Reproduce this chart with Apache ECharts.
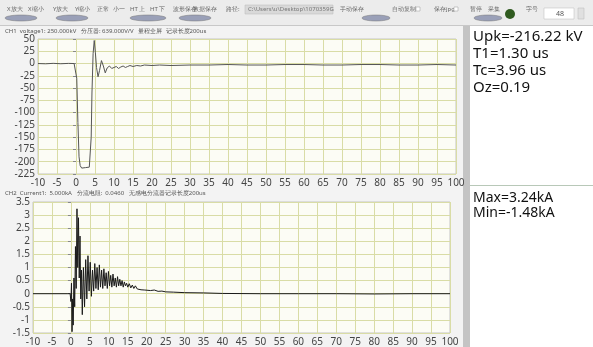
<!DOCTYPE html>
<html>
<head>
<meta charset="utf-8">
<script src="https://cdn.jsdelivr.net/npm/echarts@6/dist/echarts.min.js"></script>
<style>
  html, body { margin: 0; padding: 0; background: #f3f3f3; }
  #chart { width: 593px; height: 347px; }
</style>
</head>
<body>
<div id="chart"></div>
<script>
// time axis (us) shared by both channels
const timeTicks = { min: -10, max: 100, step: 5 };

// CH1 voltage, [us, kV]
const voltage = [
  [-10, 0], [-8, -0.5], [-6, 0.4], [-4, -0.4], [-2, 0.3], [-0.5, 0], [0, -1],
  [0.2, -30], [0.5, -120], [0.8, -190], [1.1, -208], [1.5, -213], [2, -211],
  [2.5, -212], [3, -210], [3.5, -211], [3.8, -209], [4.0, -150], [4.2, -60],
  [4.5, 20], [4.8, 47], [5.1, 22], [5.4, -8], [5.8, -27], [6.2, -14], [6.7, 6],
  [7.2, -5], [7.7, -19], [8.2, -9], [8.8, -5], [9.4, -10], [10, -8], [10.6, -6],
  [11.2, -10], [11.8, -7], [12.4, -5], [13, -8], [13.6, -6], [14.2, -4], [15, -6],
  [16, -4], [17, -5], [18, -3], [20, -4], [22, -3], [25, -4], [30, -3], [35, -3],
  [40, -2], [45, -3], [50, -3], [55, -2], [60, -2], [65, -3], [70, -3], [75, -2],
  [80, -2], [85, -3], [90, -3], [95, -2], [100, -3]
];

// CH2 current, [us, kA]
const current = [
  [-10, 0], [-5, 0], [-1, 0], [-0.2, 0], [0, -0.3], [0.15, 0.4], [0.3, -1.45],
  [0.45, -0.2], [0.6, -1.2], [0.8, 0.6], [1.0, -0.5], [1.2, 1.8], [1.4, 0.2],
  [1.6, 3.24], [1.8, 1.0], [2.0, 2.9], [2.2, 0.6], [2.4, 2.2], [2.6, -0.2],
  [2.8, 0.9], [3.0, -0.8], [3.3, 1.0], [3.6, -0.5], [3.9, 1.3], [4.2, -0.2],
  [4.5, 1.45], [4.8, 0.1], [5.1, 1.2], [5.4, -0.1], [5.7, 0.9], [6.0, 0.1],
  [6.3, 1.15], [6.6, 0.2], [6.9, 1.0], [7.2, 0.15], [7.5, 1.1], [7.8, 0.25],
  [8.1, 0.9], [8.4, 0.2], [8.7, 0.95], [9.0, 0.3], [9.3, 0.8], [9.6, 0.2],
  [9.9, 0.85], [10.2, 0.3], [10.5, 0.7], [10.8, 0.25], [11.1, 0.75], [11.4, 0.3],
  [11.7, 0.6], [12.0, 0.25], [12.3, 0.65], [12.6, 0.3], [12.9, 0.55], [13.2, 0.3],
  [13.5, 0.5], [13.8, 0.25], [14.1, 0.45], [14.4, 0.3], [14.7, 0.4], [15.0, 0.25],
  [15.4, 0.38], [15.8, 0.22], [16.2, 0.33], [16.6, 0.2], [17.0, 0.3], [17.5, 0.18],
  [18, 0.25], [18.5, 0.15], [19, 0.22], [19.5, 0.14], [20, 0.18], [21, 0.12],
  [22, 0.14], [23, 0.09], [24, 0.1], [25, 0.07], [27, 0.06], [30, 0.04],
  [35, 0.03], [40, 0.01], [50, 0], [60, 0], [70, 0], [80, -0.01], [90, 0], [100, 0]
];

const voltageRange = { min: -225, max: 50, step: 25 };
const currentRange = { min: -1.5, max: 3.5, step: 0.5 };

const ch1Header = 'CH1  voltage1: 250.000kV   分压器: 639.000V/V   量程全屏  记录长度200us';
const ch2Header = 'CH2  Current1:  5.000kA   分流电阻:  0.0460   无感电分流器记录长度200us';
const ch1Results = ['Upk=-216.22 kV', 'T1=1.30 us', 'Tc=3.96 us', 'Oz=0.19'];
const ch2Results = ['Max=3.24kA', 'Min=-1.48kA'];

const toolbarLabels = [
  ['X放大', 7], ['X缩小', 28], ['Y放大', 53], ['Y缩小', 75], ['正常', 97], ['小一', 113],
  ['HT 上', 130], ['HT 下', 150], ['波形保存', 173], ['数据保存', 193], ['路径:', 226],
  ['手动保存', 340], ['自动复制', 392], ['保存jpg', 434], ['暂停', 470], ['采集', 488], ['字号', 526]
];
const toolbarOvals = [[21, 16], [72, 16], [148, 18], [195, 16], [376, 14], [488, 14]];

const font = 'Noto Sans, sans-serif';
const gridColor = '#d9dca6';

function xAxis(gridIndex) {
  return {
    type: 'value', gridIndex,
    min: timeTicks.min, max: timeTicks.max, interval: timeTicks.step,
    axisLine: { show: false },
    axisTick: { show: false },
    axisLabel: { color: '#444', fontSize: 10, fontFamily: font, margin: 4 },
    splitLine: { show: true, lineStyle: { color: gridColor, width: 1 } }
  };
}

function yAxis(gridIndex, r) {
  return {
    type: 'value', gridIndex,
    min: r.min, max: r.max, interval: r.step,
    axisLine: { show: false },
    axisTick: { show: true, length: 3, lineStyle: { color: '#888' } },
    axisLabel: { color: '#444', fontSize: 10, fontFamily: font, margin: 3 },
    splitLine: { show: true, lineStyle: { color: gridColor, width: 1 } }
  };
}

const graphics = [];
// toolbar
graphics.push({ type: 'rect', shape: { x: 0, y: 0, width: 593, height: 25 }, style: { fill: '#ececec' }, silent: true });
graphics.push({ type: 'rect', shape: { x: 0, y: 25, width: 593, height: 1 }, style: { fill: '#c8c8c8' }, silent: true });
toolbarLabels.forEach(([t, x]) => {
  graphics.push({ type: 'text', x, y: 6, style: { text: t, fontSize: 6, fill: '#666', fontFamily: font } });
});
toolbarOvals.forEach(([cx, rx]) => {
  graphics.push({ type: 'ellipse', shape: { cx, cy: 18, rx, ry: 3 }, style: { fill: '#9aa0b8', stroke: '#777', lineWidth: 0.5 } });
});
graphics.push({ type: 'rect', shape: { x: 245, y: 5, width: 88, height: 9 }, style: { fill: '#d9d9d9', stroke: '#bbb', lineWidth: 0.5 } });
graphics.push({ type: 'text', x: 248, y: 6, style: { text: 'C:\\Users\\u\\Desktop\\1070359G', fontSize: 6, fill: '#777', fontFamily: font } });
graphics.push({ type: 'rect', shape: { x: 416, y: 7, width: 4, height: 4 }, style: { fill: '#fff', stroke: '#999', lineWidth: 0.5 } });
graphics.push({ type: 'rect', shape: { x: 454, y: 7, width: 4, height: 4 }, style: { fill: '#fff', stroke: '#999', lineWidth: 0.5 } });
graphics.push({ type: 'circle', shape: { cx: 510, cy: 14, r: 5 }, style: { fill: '#2f5a1f' } });
graphics.push({ type: 'rect', shape: { x: 544, y: 8, width: 30, height: 11 }, style: { fill: '#fff', stroke: '#bbb', lineWidth: 0.5 } });
graphics.push({ type: 'text', x: 556, y: 10, style: { text: '48', fontSize: 7, fill: '#555', fontFamily: font } });
graphics.push({ type: 'rect', shape: { x: 578, y: 8, width: 6, height: 11 }, style: { fill: '#e0e0e0', stroke: '#bbb', lineWidth: 0.5 } });

// channel headers
graphics.push({ type: 'text', x: 5, y: 28, style: { text: ch1Header, fontSize: 6, fill: '#555', fontFamily: font } });
graphics.push({ type: 'text', x: 5, y: 190, style: { text: ch2Header, fontSize: 6, fill: '#555', fontFamily: font } });

// right result panel
graphics.push({ type: 'rect', shape: { x: 463, y: 26, width: 7, height: 321 }, style: { fill: '#c4c4c4' }, silent: true });
graphics.push({ type: 'rect', shape: { x: 470, y: 26, width: 123, height: 321 }, style: { fill: '#ffffff' }, silent: true });
graphics.push({ type: 'rect', shape: { x: 470, y: 185, width: 123, height: 1 }, style: { fill: '#b8c8b8' }, silent: true });
ch1Results.forEach((t, i) => {
  graphics.push({ type: 'text', x: 473, y: 29 + i * 17, style: { text: t, fontSize: 15, fill: '#111', fontFamily: font } });
});
ch2Results.forEach((t, i) => {
  graphics.push({ type: 'text', x: 473, y: 191 + i * 15, style: { text: t, fontSize: 14, fill: '#111', fontFamily: font } });
});

const option = {
  animation: false,
  backgroundColor: '#f3f3f3',
  grid: [
    { left: 38, right: 137, top: 39, height: 135, show: true, backgroundColor: '#fcfcf5', borderColor: '#c4c4c4', borderWidth: 1 },
    { left: 33, right: 143, top: 202, height: 134, show: true, backgroundColor: '#fcfcf5', borderColor: '#c4c4c4', borderWidth: 1 }
  ],
  xAxis: [xAxis(0), xAxis(1)],
  yAxis: [yAxis(0, voltageRange), yAxis(1, currentRange)],
  series: [
    { type: 'line', xAxisIndex: 0, yAxisIndex: 0, data: voltage, showSymbol: false, lineStyle: { color: '#555', width: 1 } },
    { type: 'line', xAxisIndex: 1, yAxisIndex: 1, data: current, showSymbol: false, lineStyle: { color: '#1a1a1a', width: 1 } }
  ],
  graphic: graphics
};

const chart = echarts.init(document.getElementById('chart'));
chart.setOption(option);
</script>
</body>
</html>
